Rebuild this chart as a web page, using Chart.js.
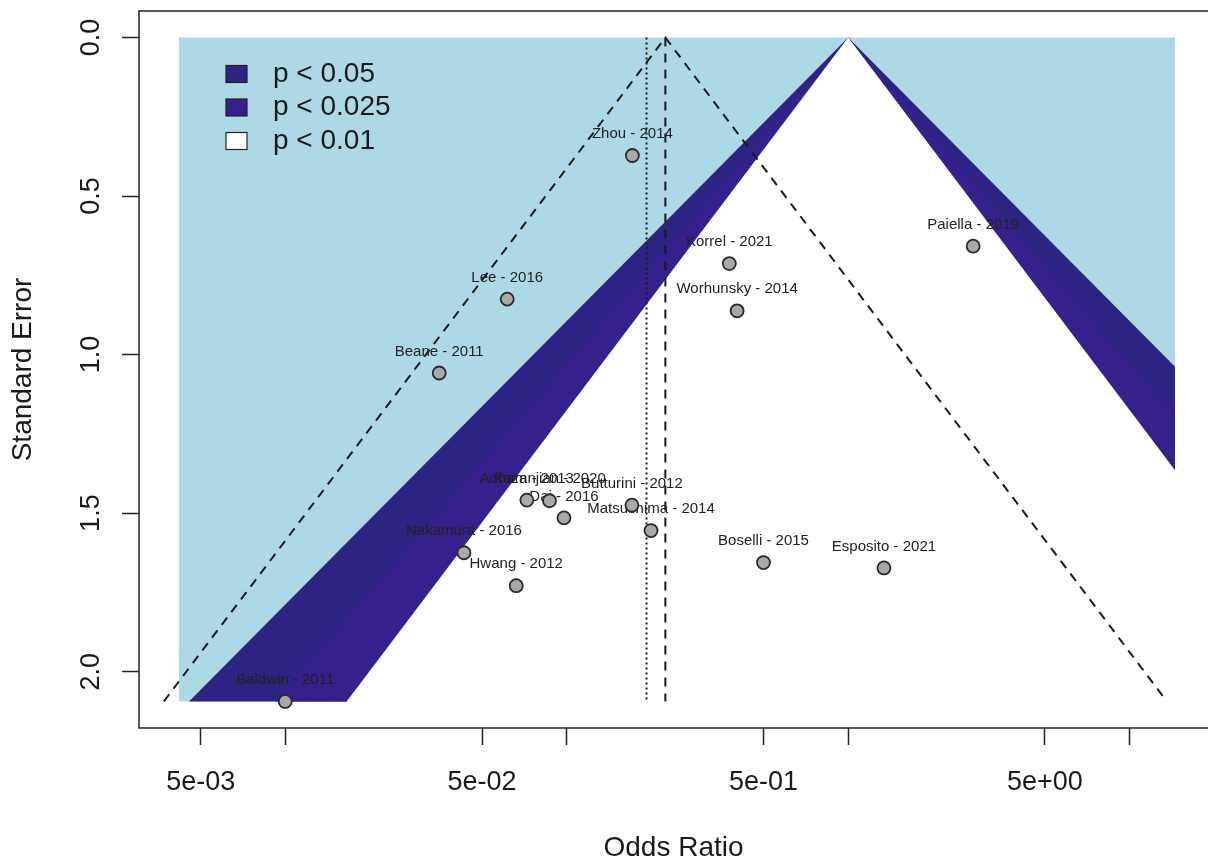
<!DOCTYPE html>
<html>
<head>
<meta charset="utf-8">
<script src="https://cdn.jsdelivr.net/npm/chart.js@4.4.1/dist/chart.umd.min.js"></script>
<style>
html,body{margin:0;padding:0;overflow:hidden;background:#fff;}
canvas{display:block;}
</style>
</head>
<body>
<canvas id="c" width="1208" height="861" style="width:1208px;height:861px"></canvas>
<script>
// ---- data ----
const studies = ['Zhou - 2014','Paiella - 2019','Korrel - 2021','Worhunsky - 2014','Lee - 2016','Beane - 2011',
  'Adham - 2013','Kazanjian - 2020','Dai - 2016','Butturini - 2012','Matsushima - 2014','Nakamura - 2016',
  'Hwang - 2012','Boselli - 2015','Esposito - 2021','Baldwin - 2011'];
const oddsRatios = [0.171, 2.78, 0.378, 0.403, 0.0614, 0.0352,
  0.0721, 0.0868, 0.0977, 0.1704, 0.1992, 0.0431,
  0.0661, 0.500, 1.34, 0.00998];
const standardErrors = [0.372, 0.658, 0.713, 0.862, 0.825, 1.058,
  1.459, 1.461, 1.515, 1.475, 1.555, 1.625,
  1.729, 1.656, 1.673, 2.094];
const estimateOR = 0.224;        // dashed line / funnel centre
const estimateOR2 = 0.192;       // dotted line
const funnelZ = 1.96;
const contourZ = [2.576, 2.241, 1.96];
const contourColors = ['#2C2383', '#36208B', '#FFFFFF'];
const backColor = '#ADD8E6';
const legendLabels = ['p < 0.05', 'p < 0.025', 'p < 0.01'];
const legendColors = ['#2C2383', '#3A1E8E', '#FFFFFF'];
const xTickValues = [0.005, 0.01, 0.05, 0.1, 0.5, 1, 5, 10];
const xTickLabels = ['5e-03', '', '5e-02', '', '5e-01', '', '5e+00', ''];
const yTickValues = [0, 0.5, 1, 1.5, 2];
const yTickLabels = ['0.0', '0.5', '1.0', '1.5', '2.0'];
const plotLimitsOR = [0.00418, 14.51];
const xViewMaxOR = 19.0;          // right edge of the (cropped) plotting region

// ---- derived ----
const FONT = "'Liberation Sans', Arial, Helvetica, sans-serif";
const seMax = Math.max(...standardErrors);
const lnLo = Math.log(plotLimitsOR[0]), lnHi = Math.log(plotLimitsOR[1]);
const xExt = 0.04 * (lnHi - lnLo);
const yExt = 0.04 * seMax;

function regionPoints(z) {
  const l = Math.max(-z * seMax, lnLo);
  const r = Math.min(z * seMax, lnHi);
  return [{x: Math.exp(l), y: Math.abs(l) / z}, {x: 1, y: 0}, {x: Math.exp(r), y: r / z}];
}
function areaDataset(data, color, base) {
  return {data, backgroundColor: color, borderColor: 'rgba(0,0,0,0)', borderWidth: 0,
    pointRadius: 0, fill: {value: base}, showLine: true};
}
function lineDataset(data, dash) {
  return {data, borderColor: '#1a1a1a', borderWidth: 2, borderDash: dash, pointRadius: 0,
    fill: false, showLine: true};
}

const datasets = [
  {data: oddsRatios.map((v, i) => ({x: v, y: standardErrors[i]})), showLine: false,
   pointRadius: 6.5, pointBackgroundColor: '#A9A9A9', pointBorderColor: '#2a2a2a', pointBorderWidth: 1.8},
  lineDataset([{x: estimateOR2, y: 0}, {x: estimateOR2, y: seMax}], [2, 3]),
  lineDataset([{x: estimateOR, y: 0}, {x: estimateOR, y: seMax}], [9, 7]),
  lineDataset([{x: estimateOR * Math.exp(-funnelZ * seMax), y: seMax}, {x: estimateOR, y: 0},
               {x: estimateOR * Math.exp(funnelZ * seMax), y: seMax}], [9, 7]),
  areaDataset(regionPoints(contourZ[2]), contourColors[2], seMax + yExt),
  areaDataset(regionPoints(contourZ[1]), contourColors[1], seMax),
  areaDataset(regionPoints(contourZ[0]), contourColors[0], seMax),
  areaDataset([{x: plotLimitsOR[0], y: 0}, {x: plotLimitsOR[1], y: 0}], backColor, seMax)
];

const labelPlugin = {
  id: 'studyLabels',
  beforeDatasetDraw(chart, args) {
    if (args.index !== 0) return;
    const ctx = chart.ctx;
    const meta = chart.getDatasetMeta(0);
    ctx.save();
    ctx.font = '15px ' + FONT;
    ctx.fillStyle = '#222';
    ctx.textAlign = 'center';
    ctx.textBaseline = 'middle';
    meta.data.forEach((pt, i) => ctx.fillText(studies[i], pt.x, pt.y - 21.5));
    ctx.restore();
  }
};
const boxPlugin = {
  id: 'box',
  afterDatasetsDraw(chart) {
    const {ctx, chartArea: a} = chart;
    ctx.save();
    ctx.strokeStyle = '#222';
    ctx.lineWidth = 1.5;
    ctx.beginPath();
    ctx.moveTo(chart.width, a.top);
    ctx.lineTo(a.left, a.top);
    ctx.lineTo(a.left, a.bottom);
    ctx.lineTo(chart.width, a.bottom);
    ctx.stroke();
    // legend
    const x0 = a.left + 87, y0 = a.top + 63, step = 33.5;
    ctx.font = '28px ' + FONT;
    ctx.textBaseline = 'middle';
    ctx.textAlign = 'left';
    legendLabels.forEach((lab, i) => {
      const cy = y0 + i * step;
      ctx.fillStyle = legendColors[i];
      ctx.fillRect(x0, cy - 8.5, 21, 17);
      ctx.lineWidth = 1.2;
      ctx.strokeStyle = '#222';
      ctx.strokeRect(x0, cy - 8.5, 21, 17);
      ctx.fillStyle = '#1a1a1a';
      ctx.fillText(lab, x0 + 47, cy);
    });
    ctx.restore();
  }
};

new Chart(document.getElementById('c'), {
  type: 'line',
  data: {datasets},
  plugins: [labelPlugin, boxPlugin],
  options: {
    responsive: false,
    animation: false,
    events: [],
    layout: {autoPadding: false, padding: {top: 11, right: 0, left: 0, bottom: 0}},
    plugins: {legend: {display: false}, tooltip: {enabled: false}},
    scales: {
      x: {
        type: 'logarithmic',
        position: 'bottom',
        min: Math.exp(lnLo - xExt),
        max: xViewMaxOR,
        afterBuildTicks: s => { s.ticks = xTickValues.map(v => ({value: v})); },
        afterFit: s => { s.height = 133; s.paddingLeft = 0; s.paddingRight = 0; },
        ticks: {
          autoSkip: false, maxRotation: 0, minRotation: 0, padding: 21,
          color: '#1a1a1a', font: {family: FONT, size: 27},
          callback: (v, i) => xTickLabels[i]
        },
        grid: {display: true, drawOnChartArea: false, drawTicks: true, tickLength: 17,
               tickColor: '#222', tickWidth: 1.5},
        border: {display: false},
        title: {display: true, text: 'Odds Ratio', color: '#1a1a1a', align: 'center',
                font: {family: FONT, size: 28, lineHeight: 0.9}, padding: 0}
      },
      y: {
        type: 'linear',
        reverse: true,
        min: -yExt,
        max: seMax + yExt,
        afterBuildTicks: s => { s.ticks = yTickValues.map(v => ({value: v})); },
        afterFit: s => { s.width = 139; s.paddingTop = 0; s.paddingBottom = 0; },
        ticks: {
          autoSkip: false, minRotation: 90, maxRotation: 90, crossAlign: 'center', padding: 12,
          color: '#1a1a1a', font: {family: FONT, size: 27},
          callback: (v, i) => yTickLabels[i]
        },
        grid: {display: true, drawOnChartArea: false, drawTicks: true, tickLength: 17,
               tickColor: '#222', tickWidth: 1.5},
        border: {display: false},
        title: {display: true, text: 'Standard Error', color: '#1a1a1a',
                font: {family: FONT, size: 28, lineHeight: 1}, padding: {top: 9, bottom: 0}}
      }
    }
  }
});
</script>
</body>
</html>
